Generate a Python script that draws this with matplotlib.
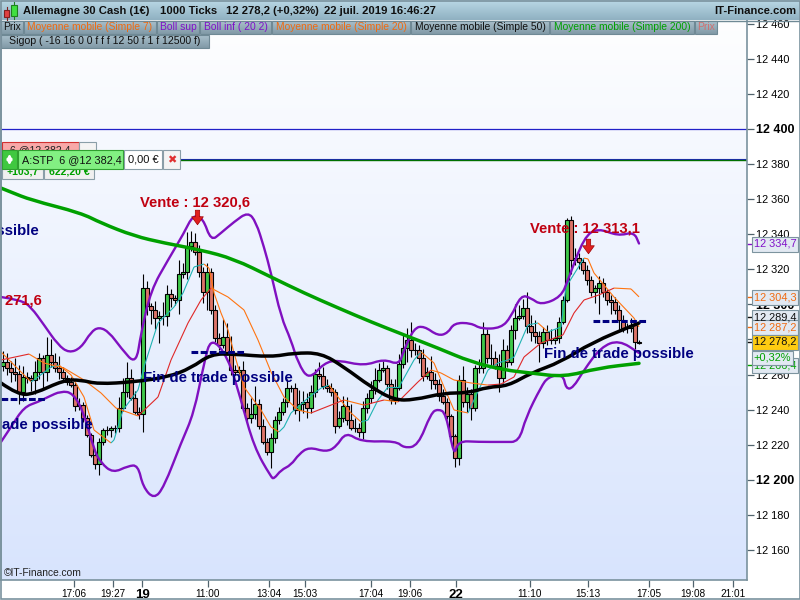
import matplotlib
matplotlib.use('Agg')
import matplotlib.pyplot as plt
import numpy as np
from matplotlib.collections import LineCollection
from matplotlib.patches import PathPatch, Rectangle
from matplotlib.path import Path

plt.rcParams['font.family'] = ['Liberation Sans', 'DejaVu Sans']

# candles, one every 4 slots on the time axis
first_open = 12265.0
closes = [12267.2, 12263.7, 12261.5, 12260.3, 12250.0, 12258.6, 12258.0, 12256.9, 12261.5, 12269.4,
          12261.5, 12271.2, 12267.2, 12263.7, 12261.5, 12258.0, 12255.8, 12254.0, 12242.0, 12242.6,
          12235.2, 12225.5, 12214.2, 12209.0, 12221.6, 12228.4, 12228.4, 12229.5, 12229.5, 12241.0,
          12250.0, 12258.0, 12246.6, 12238.7, 12237.5, 12309.3, 12299.0, 12296.8, 12292.2, 12293.4,
          12293.4, 12305.9, 12303.6, 12302.5, 12317.3, 12318.5, 12333.3, 12335.6, 12329.9, 12318.5,
          12307.0, 12318.5, 12296.8, 12280.8, 12276.9, 12281.4, 12272.9, 12262.6, 12261.5, 12262.6,
          12241.0, 12235.2, 12237.5, 12243.2, 12230.7, 12221.6, 12215.9, 12223.8, 12234.1, 12238.7,
          12244.4, 12252.3, 12252.3, 12239.8, 12243.2, 12244.4, 12241.0, 12250.0, 12260.3, 12259.2,
          12253.5, 12252.3, 12250.0, 12230.7, 12235.2, 12242.0, 12234.1, 12229.5, 12229.5, 12227.3,
          12241.0, 12246.6, 12251.2, 12256.9, 12262.6, 12263.7, 12254.6, 12245.5, 12252.3, 12266.0,
          12275.1, 12279.7, 12274.0, 12274.0, 12269.4, 12259.2, 12261.5, 12256.9, 12254.6, 12247.8,
          12244.4, 12236.4, 12225.0, 12212.4, 12256.9, 12244.4, 12248.9, 12241.0, 12263.7, 12263.7,
          12283.1, 12269.4, 12269.4, 12264.9, 12258.0, 12274.0, 12267.2, 12285.4, 12292.2, 12293.4,
          12298.0, 12287.7, 12284.3, 12282.0, 12278.0, 12284.3, 12279.7, 12279.7, 12280.8, 12290.0,
          12302.5, 12348.1, 12325.3, 12326.4, 12324.2, 12319.6, 12313.9, 12307.0, 12309.3, 12312.2,
          12307.0, 12302.5, 12301.4, 12296.8, 12291.1, 12286.5, 12286.5, 12288.3, 12278.6, 12278.2]
wick_up = [6, 5, 4, 8, 5, 6, 3, 2, 6, 3,
           2, 10, 9, 5, 7, 3, 2, 3, 2, 4,
           2, 2, 1, 2, 2, 1, 2, 1, 2, 6,
           8, 9, 5, 4, 3, 8, 4, 2, 5, 3,
           8, 5, 3, 2, 8, 5, 8, 6, 5, 4,
           3, 5, 2, 3, 3, 10, 8, 9, 3, 2,
           5, 3, 9, 10, 3, 4, 2, 3, 2, 3,
           2, 5, 2, 3, 8, 6, 5, 4, 3, 7,
           5, 4, 3, 2, 4, 6, 5, 9, 6, 3,
           4, 3, 5, 7, 4, 4, 2, 3, 5, 6,
           8, 7, 10, 4, 3, 5, 3, 9, 4, 3,
           4, 2, 1, 1, 3, 8, 4, 3, 2, 5,
           7, 3, 8, 4, 7, 6, 3, 3, 8, 6,
           5, 9, 6, 7, 3, 3, 4, 6, 5, 3,
           2, 1, 2, 6, 3, 2, 3, 2, 2, 4,
           3, 2, 3, 3, 3, 3, 3, 4, 2, 1]
wick_dn = [3, 4, 6, 4, 7, 5, 3, 6, 8, 4,
           10, 5, 3, 2, 4, 2, 2, 1, 3, 2,
           2, 1, 1, 3, 6, 2, 3, 4, 3, 2,
           2, 3, 1, 1, 3, 10, 5, 8, 6, 14,
           5, 6, 5, 3, 8, 2, 4, 3, 2, 3,
           6, 10, 2, 2, 3, 2, 2, 3, 2, 1,
           2, 2, 3, 3, 2, 1, 2, 9, 3, 2,
           2, 3, 2, 2, 6, 5, 6, 3, 3, 2,
           2, 2, 2, 4, 1, 2, 3, 1, 2, 3,
           4, 3, 3, 2, 1, 1, 3, 2, 2, 1,
           2, 8, 4, 3, 3, 3, 2, 5, 3, 3,
           1, 2, 1, 5, 4, 3, 6, 7, 2, 3,
           3, 3, 5, 2, 8, 3, 3, 2, 5, 1,
           2, 4, 5, 4, 11, 3, 3, 2, 2, 3,
           1, 1, 8, 3, 4, 2, 3, 2, 6, 15,
           3, 3, 7, 2, 6, 2, 3, 2, 4, 1]

mm200_x = [0, 10, 30, 80, 100, 133, 163, 200, 233, 270, 303, 337, 370, 403, 437, 470, 503, 530, 563, 597, 638]
mm200 = [12366.3, 12364.0, 12359.5, 12352.1, 12346.4, 12339.0, 12335.0, 12331.0, 12325.9, 12315.6, 12306.5,
         12298.0, 12290.0, 12282.6, 12275.1, 12267.2, 12262.6, 12260.9, 12258.6, 12263.7, 12266.4]

mm50_x = [0, 17, 33, 63, 80, 97, 133, 167, 190, 210, 233, 270, 293, 320, 343, 370, 393, 413, 443, 467, 487, 507, 530, 560, 590, 638]
mm50 = [12255.2, 12248.4, 12249.0, 12256.9, 12256.9, 12254.6, 12255.8, 12258.6, 12263.7, 12271.7, 12271.7,
        12270.0, 12272.3, 12272.3, 12264.3, 12252.9, 12245.5, 12245.5, 12249.5, 12249.5, 12252.9, 12253.5,
        12260.9, 12267.2, 12278.0, 12289.4]

boll_up_x = [0, 20, 30, 43, 57, 68, 80, 90, 98, 108, 120, 135, 140, 150, 167, 183, 192, 202, 210, 220, 233, 247,
             255, 263, 270, 280, 290, 297, 308, 323, 337, 363, 383, 398, 403, 413, 423, 437, 447, 453, 470, 480,
             500, 510, 520, 530, 540, 560, 567, 583, 597, 617, 633, 638]
boll_up = [12304.2, 12302.5, 12298.5, 12288.3, 12276.9, 12272.3, 12275.1, 12284.3, 12287.1, 12284.3, 12275.1,
           12265.4, 12283.7, 12308.2, 12325.3, 12340.7, 12351.0, 12349.2, 12336.1, 12340.7, 12347.0, 12352.7,
           12347.0, 12332.7, 12317.9, 12292.8, 12279.7, 12266.6, 12256.9, 12266.6, 12268.3, 12264.9, 12268.9,
           12265.4, 12274.0, 12286.5, 12287.7, 12282.0, 12283.7, 12289.4, 12289.4, 12286.0, 12286.5, 12292.8,
           12305.4, 12303.6, 12299.6, 12304.2, 12313.9, 12338.4, 12343.5, 12339.0, 12341.3, 12334.7]

boll_dn_x = [0, 10, 23, 37, 47, 60, 72, 83, 93, 100, 112, 127, 137, 142, 153, 163, 180, 193, 203, 210, 227, 240,
             253, 270, 273, 280, 290, 298, 308, 325, 335, 345, 360, 395, 403, 417, 430, 437, 445, 453, 457, 477,
             503, 518, 525, 540, 547, 562, 565, 572, 583, 600, 618, 638]
boll_dn = [12221.6, 12230.1, 12241.5, 12244.4, 12247.2, 12250.6, 12249.5, 12238.1, 12217.0, 12209.6, 12203.9,
           12207.9, 12208.4, 12195.9, 12189.0, 12195.9, 12221.0, 12238.1, 12266.6, 12281.4, 12270.0, 12245.5,
           12218.7, 12201.6, 12200.5, 12205.6, 12208.4, 12214.7, 12218.7, 12215.9, 12218.7, 12227.3, 12221.6,
           12222.2, 12218.1, 12219.3, 12238.1, 12240.4, 12238.1, 12213.0, 12222.2, 12221.6, 12221.6, 12221.6,
           12235.8, 12252.9, 12258.6, 12260.3, 12251.8, 12252.3, 12262.6, 12275.7, 12279.7, 12272.3]

mm20_x = [0, 28, 43, 63, 83, 100, 115, 137, 157, 170, 187, 200, 210, 227, 243, 257, 270, 283, 297, 310, 330, 343,
          363, 383, 397, 417, 430, 440, 453, 470, 487, 500, 513, 523, 540, 562, 573, 583, 598, 613, 630, 638]
mm20 = [12268.3, 12271.7, 12266.6, 12263.7, 12256.9, 12249.5, 12240.9, 12236.4, 12247.2, 12268.3, 12289.4,
        12302.5, 12309.3, 12304.2, 12296.8, 12279.7, 12261.5, 12247.2, 12239.8, 12238.1, 12242.6, 12245.5,
        12242.6, 12245.5, 12244.4, 12255.8, 12262.6, 12260.9, 12256.9, 12255.2, 12254.0, 12254.6, 12258.6,
        12270.0, 12278.0, 12282.6, 12295.1, 12302.5, 12305.4, 12309.3, 12308.8, 12304.3]

mm7_x = [0, 30, 33, 50, 58, 70, 83, 93, 110, 113, 122, 137, 143, 157, 173, 182, 193, 203, 208, 213, 220, 227, 233,
         243, 260, 270, 278, 283, 290, 307, 320, 328, 337, 350, 360, 367, 377, 387, 398, 413, 420, 433, 443, 453,
         467, 473, 487, 497, 507, 513, 527, 537, 547, 560, 565, 583, 587, 593, 613, 633, 638]
mm7 = [12272.9, 12255.8, 12256.9, 12264.3, 12265.4, 12259.8, 12247.2, 12228.4, 12221.0, 12222.7, 12239.8,
       12251.2, 12264.3, 12289.4, 12298.5, 12306.5, 12321.3, 12323.0, 12320.7, 12306.5, 12295.1, 12285.4,
       12272.3, 12252.9, 12239.8, 12230.1, 12227.3, 12230.1, 12238.1, 12246.6, 12252.3, 12254.0, 12247.2,
       12238.1, 12233.0, 12234.1, 12245.5, 12252.9, 12252.9, 12268.3, 12272.9, 12266.6, 12252.9, 12239.8,
       12238.1, 12245.5, 12262.6, 12266.6, 12268.3, 12270.0, 12288.3, 12289.4, 12284.3, 12287.1, 12309.9,
       12326.4, 12325.9, 12317.9, 12304.2, 12292.2, 12287.2]

y_ticks = [12160, 12180, 12200, 12220, 12240, 12260, 12280, 12300, 12320, 12340, 12360, 12380, 12400, 12420, 12440, 12460]
bold_ticks = [12200, 12300, 12400]
x_tick_pos = [73, 112, 141, 207, 268, 304, 370, 409, 455, 529, 587, 648, 692, 732]
x_tick_lab = ['17:06', '19:27', '19', '11:00', '13:04', '15:03', '17:04', '19:06', '22', '11:10', '15:13', '17:05', '19:08', '21:01']
bold_days = ['19', '22']

level_round = 12400
level_stop = 12382.4

notes_red = ['Vente : 12 271,6', 'Vente : 12 320,6', 'Vente : 12 313,1']
notes_red_x = [41, 249, 639]
notes_red_y = [12302, 12358, 12343]
notes_end = ['Fin de trade possible'] * 4
notes_end_x = [38, 92, 292, 693]
notes_end_y = [12342, 12231, 12258, 12272]
dash_x0 = [0, 190, 592]
dash_x1 = [45, 245, 647]
dash_y = [12246, 12273, 12290.5]
arrow_x = [196, 587]
arrow_y = [12350, 12333]

bg = np.linspace(0, 1, 256).reshape(-1, 1)


def gradient(ax, top, bottom, extent, z=1):
    top = np.array(matplotlib.colors.to_rgb(top))
    bottom = np.array(matplotlib.colors.to_rgb(bottom))
    img = (top + (bottom - top) * bg[:, :, None]).reshape(-1, 1, 3)
    ax.imshow(img, extent=extent, aspect='auto', zorder=z, interpolation='bilinear')


fig = plt.figure(figsize=(8, 6), dpi=100, facecolor='white')
ax = fig.add_axes([1 / 800, 20 / 600, 746 / 800, 580 / 600])
gradient(ax, '#ffffff', '#d8e4fd', (0, 746, 12142.9, 12473.5), z=0)
ax.set_xlim(0, 746)
ax.set_ylim(12142.9, 12473.5)
ax.spines['top'].set_visible(False)
for s in ['left', 'right', 'bottom']:
    ax.spines[s].set_color('#7a929e')
    ax.spines[s].set_linewidth(1.2)

ax.axhline(level_round, color='#2020c8', lw=0.9, zorder=1)
ax.axhline(level_stop + 0.3, color='#2020c8', lw=0.8, zorder=1)
ax.axhline(level_stop - 0.3, color='#007000', lw=1, zorder=1)


def two_tone(x, y, up, down, lw=0.8, z=4):
    pts = np.column_stack([x, y])
    segs = np.stack([pts[:-1], pts[1:]], axis=1)
    cols = [up if b >= a else down for a, b in zip(y[:-1], y[1:])]
    ax.add_collection(LineCollection(segs, colors=cols, linewidths=lw, zorder=z))


def soft_line(x, y, color, lw, z):
    # quadratic curves between the midpoints, the read points act as controls
    p = np.column_stack([x, y])
    verts = [p[0]]
    codes = [Path.MOVETO]
    for i in range(1, len(p) - 1):
        verts += [p[i], (p[i] + p[i + 1]) / 2]
        codes += [Path.CURVE3, Path.CURVE3]
    verts.append(p[-1])
    codes.append(Path.LINETO)
    ax.add_patch(PathPatch(Path(verts, codes), fc='none', ec=color, lw=lw, zorder=z, capstyle='round'))


# candles
c = np.array(closes)
o = np.r_[first_open, c[:-1]]
hi = np.maximum(o, c) + np.array(wick_up)
lo = np.minimum(o, c) - np.array(wick_dn)
bx = 2 + 4 * np.arange(len(c))
ax.vlines(bx, lo, hi, color='black', lw=0.8, zorder=2)
cols = ['#3fc84a' if b >= a else '#dd7468' for a, b in zip(o, c)]
ax.bar(bx, np.abs(c - o) + 0.4, bottom=np.minimum(o, c) - 0.2, width=3.2, color=cols, edgecolor='black', linewidth=0.8, zorder=3)

two_tone(np.array(mm7_x), np.array(mm7), '#1fb3b3', '#ff7410')
two_tone(np.array(mm20_x), np.array(mm20), '#e02828', '#ff7410')
soft_line(boll_up_x, boll_up, '#8010c0', 1.7, 5)
soft_line(boll_dn_x, boll_dn, '#8010c0', 1.7, 5)
soft_line(mm50_x, mm50, 'black', 2.5, 6)
soft_line(mm200_x, mm200, '#00a000', 2.5, 7)

for x0, x1, y in zip(dash_x0, dash_x1, dash_y):
    ax.plot([x0, x1], [y, y], color='#000080', lw=2.2, dashes=(2.2, 0.8), zorder=8, solid_capstyle='butt', dash_capstyle='butt')

arrow_marker = Path([(-.3, 1), (.3, 1), (.3, .1), (.8, .1), (0, -1), (-.8, .1), (-.3, .1), (-.3, 1)], closed=True)
ax.scatter(arrow_x, arrow_y, marker=arrow_marker, s=110, color='#e02020', edgecolor='#a00000', linewidth=0.5, zorder=9)

for t, x, y in zip(notes_red, notes_red_x, notes_red_y):
    ax.text(x, y, t, color='#c00010', fontsize=10.6, fontweight='bold', ha='right', va='center', zorder=10, clip_on=True)
for t, x, y in zip(notes_end, notes_end_x, notes_end_y):
    ax.text(x, y, t, color='#000080', fontsize=10.8, fontweight='bold', ha='right', va='center', zorder=10, clip_on=True)
ax.text(3, 12147, '©IT-Finance.com', fontsize=7.4, color='#222222', va='center', zorder=10)

ax.yaxis.tick_right()
ax.set_yticks(y_ticks)
ax.set_yticklabels([f'{v // 1000} {v % 1000:03d}' for v in y_ticks], fontsize=7.9)
ax.tick_params(axis='y', length=5, width=0.9, color='#50636d', pad=1.5)
for lab, v in zip(ax.get_yticklabels(), y_ticks):
    if v in bold_ticks:
        lab.set_fontweight('bold')
        lab.set_fontsize(9)
ax.set_xticks(x_tick_pos)
ax.set_xticklabels(x_tick_lab, fontsize=7.2)
ax.tick_params(axis='x', length=5, width=0.9, color='#50636d', pad=1.5)
for lab in ax.get_xticklabels():
    if lab.get_text() in bold_days:
        lab.set_fontweight('bold')
        lab.set_fontsize(9.5)

# overlay in pixel coordinates for the platform chrome
ov = fig.add_axes([0, 0, 1, 1], zorder=5)
ov.patch.set_alpha(0)
ov.axis('off')


def box(x0, y0, x1, y1, fc, ec='#8a9ea8', z=3, lw=0.8):
    ov.add_patch(Rectangle((x0, y0), x1 - x0, y1 - y0, fc=fc, ec=ec, lw=lw, zorder=z))


gradient(ov, '#bad9e6', '#8fb0c1', (0, 800, 20, 0))
ov.plot([0, 800], [20.5, 20.5], color='#6f8995', lw=1, zorder=2)
box(4, 10, 9, 17, '#e04040', ec='#802020')
ov.plot([6.5, 6.5], [7, 20], color='#802020', lw=0.8, zorder=2)
box(11, 5, 17, 16, '#40e040', ec='#208020')
ov.plot([14, 14], [2, 19], color='#208020', lw=0.8, zorder=2)
head_y = 11
for x, t in zip([23, 160, 226, 324], ['Allemagne 30 Cash (1€)', '1000 Ticks', '12 278,2 (+0,32%)', '22 juil. 2019 16:46:27']):
    ov.text(x, head_y, t, fontsize=8.1, fontweight='bold', color='#101010', va='center', zorder=4)
ov.text(796, head_y, 'IT-Finance.com', fontsize=8.1, fontweight='bold', color='#101010', ha='right', va='center', zorder=4)

tab_x0 = [1, 24, 157, 200, 272, 411, 550, 695]
tab_x1 = [23, 156, 199, 271, 410, 549, 694, 717]
tab_txt = ['Prix', 'Moyenne mobile (Simple 7)', 'Boll sup', 'Boll inf ( 20 2)', 'Moyenne mobile (Simple 20)',
           'Moyenne mobile (Simple 50)', 'Moyenne mobile (Simple 200)', 'Prix']
tab_col = ['#101010', '#f06a10', '#8010c8', '#8010c8', '#f06a10', '#101010', '#00a000', '#d07070']
for a, b, t, col in zip(tab_x0, tab_x1, tab_txt, tab_col):
    gradient(ov, '#a9c0cc', '#8199a6', (a, b, 34, 21), z=2)
    ov.add_patch(Rectangle((a, 21), b - a, 13, fc='none', ec='#6f8995', lw=0.8, zorder=3))
    ov.text((a + b) / 2, 27.5, t, fontsize=7.4, color=col, ha='center', va='center', zorder=4)
gradient(ov, '#a9c0cc', '#8199a6', (1, 209, 48, 35), z=2)
ov.add_patch(Rectangle((1, 35), 208, 13, fc='none', ec='#6f8995', lw=0.8, zorder=3))
ov.text(105, 41.5, 'Sigop ( -16 16 0 0 f f f 12 50 f 1 f 12500 f)', fontsize=7.6, color='#101010', ha='center', va='center', zorder=4)

# order widgets
box(2, 142, 79, 152, '#f8a8a8', ec='#d03030')
ov.text(40, 150, '6 @12 382,4', fontsize=7.6, color='#222222', ha='center', va='center', zorder=3.5)
box(79, 142, 96, 152, '#f4f4f4')
box(2, 168, 43, 179, '#f0f0f0')
box(44, 168, 94, 179, '#f0f0f0')
ov.text(23, 172, '+103,7', fontsize=7.6, fontweight='bold', color='#00a000', ha='center', va='center', zorder=3.5)
ov.text(69, 172, '622,20 €', fontsize=7.6, fontweight='bold', color='#00a000', ha='center', va='center', zorder=3.5)
box(2, 150, 17, 169, '#40c840', ec='#30a030', z=5)
box(18, 150, 123, 169, '#82f082', ec='#30a030', z=5)
box(124, 150, 162, 169, '#ffffff', z=5)
box(163, 150, 180, 169, '#f4f4f4', z=5)
ov.annotate('', xy=(9.5, 151), xytext=(9.5, 168), arrowprops=dict(arrowstyle='<|-|>', color='white', lw=1.6, mutation_scale=7), zorder=6)
ov.text(22, 160, 'A:STP  6 @12 382,4', fontsize=7.8, color='#101010', va='center', zorder=6)
ov.text(143, 160, '0,00 €', fontsize=8, color='#101010', ha='center', va='center', zorder=6)
ov.text(171.5, 160, '✖', fontsize=8, color='#e03030', ha='center', va='center', zorder=6, family=['DejaVu Sans'])

# last value labels on the price scale
lab_txt = ['12 289,4', '12 266,4', '12 334,7', '12 304,3', '12 287,2', '12 278,2']
lab_y = [317, 365, 244, 297, 327, 342]
lab_col = ['#101010', '#00a000', '#8010c8', '#f06a10', '#f06a10', '#101010']
lab_fc = ['#e2e9f2', '#e2e9f2', '#e2e9f2', '#e2e9f2', '#e2e9f2', '#ffcc11']
for t, y, col, fc in zip(lab_txt, lab_y, lab_col, lab_fc):
    ov.plot([748, 752], [y, y], color=col, lw=1, zorder=3)
    box(752, y - 7.5, 798, y + 7.5, fc, ec='#7d949f', z=5)
    ov.text(775, y, t, fontsize=7.9, color=col, ha='center', va='center', zorder=6)
box(752, 351, 793, 365, '#e2e9f2', ec='#7d949f', z=7)
ov.text(772.5, 358, '+0,32%', fontsize=7.9, color='#00a000', ha='center', va='center', zorder=8)

ov.add_patch(Rectangle((0.5, 0.5), 799, 598.5, fc='none', ec='#7a929e', lw=1.2, zorder=9))
ov.set_xlim(0, 800)
ov.set_ylim(600, 0)

fig.savefig('out.png', dpi=100)
